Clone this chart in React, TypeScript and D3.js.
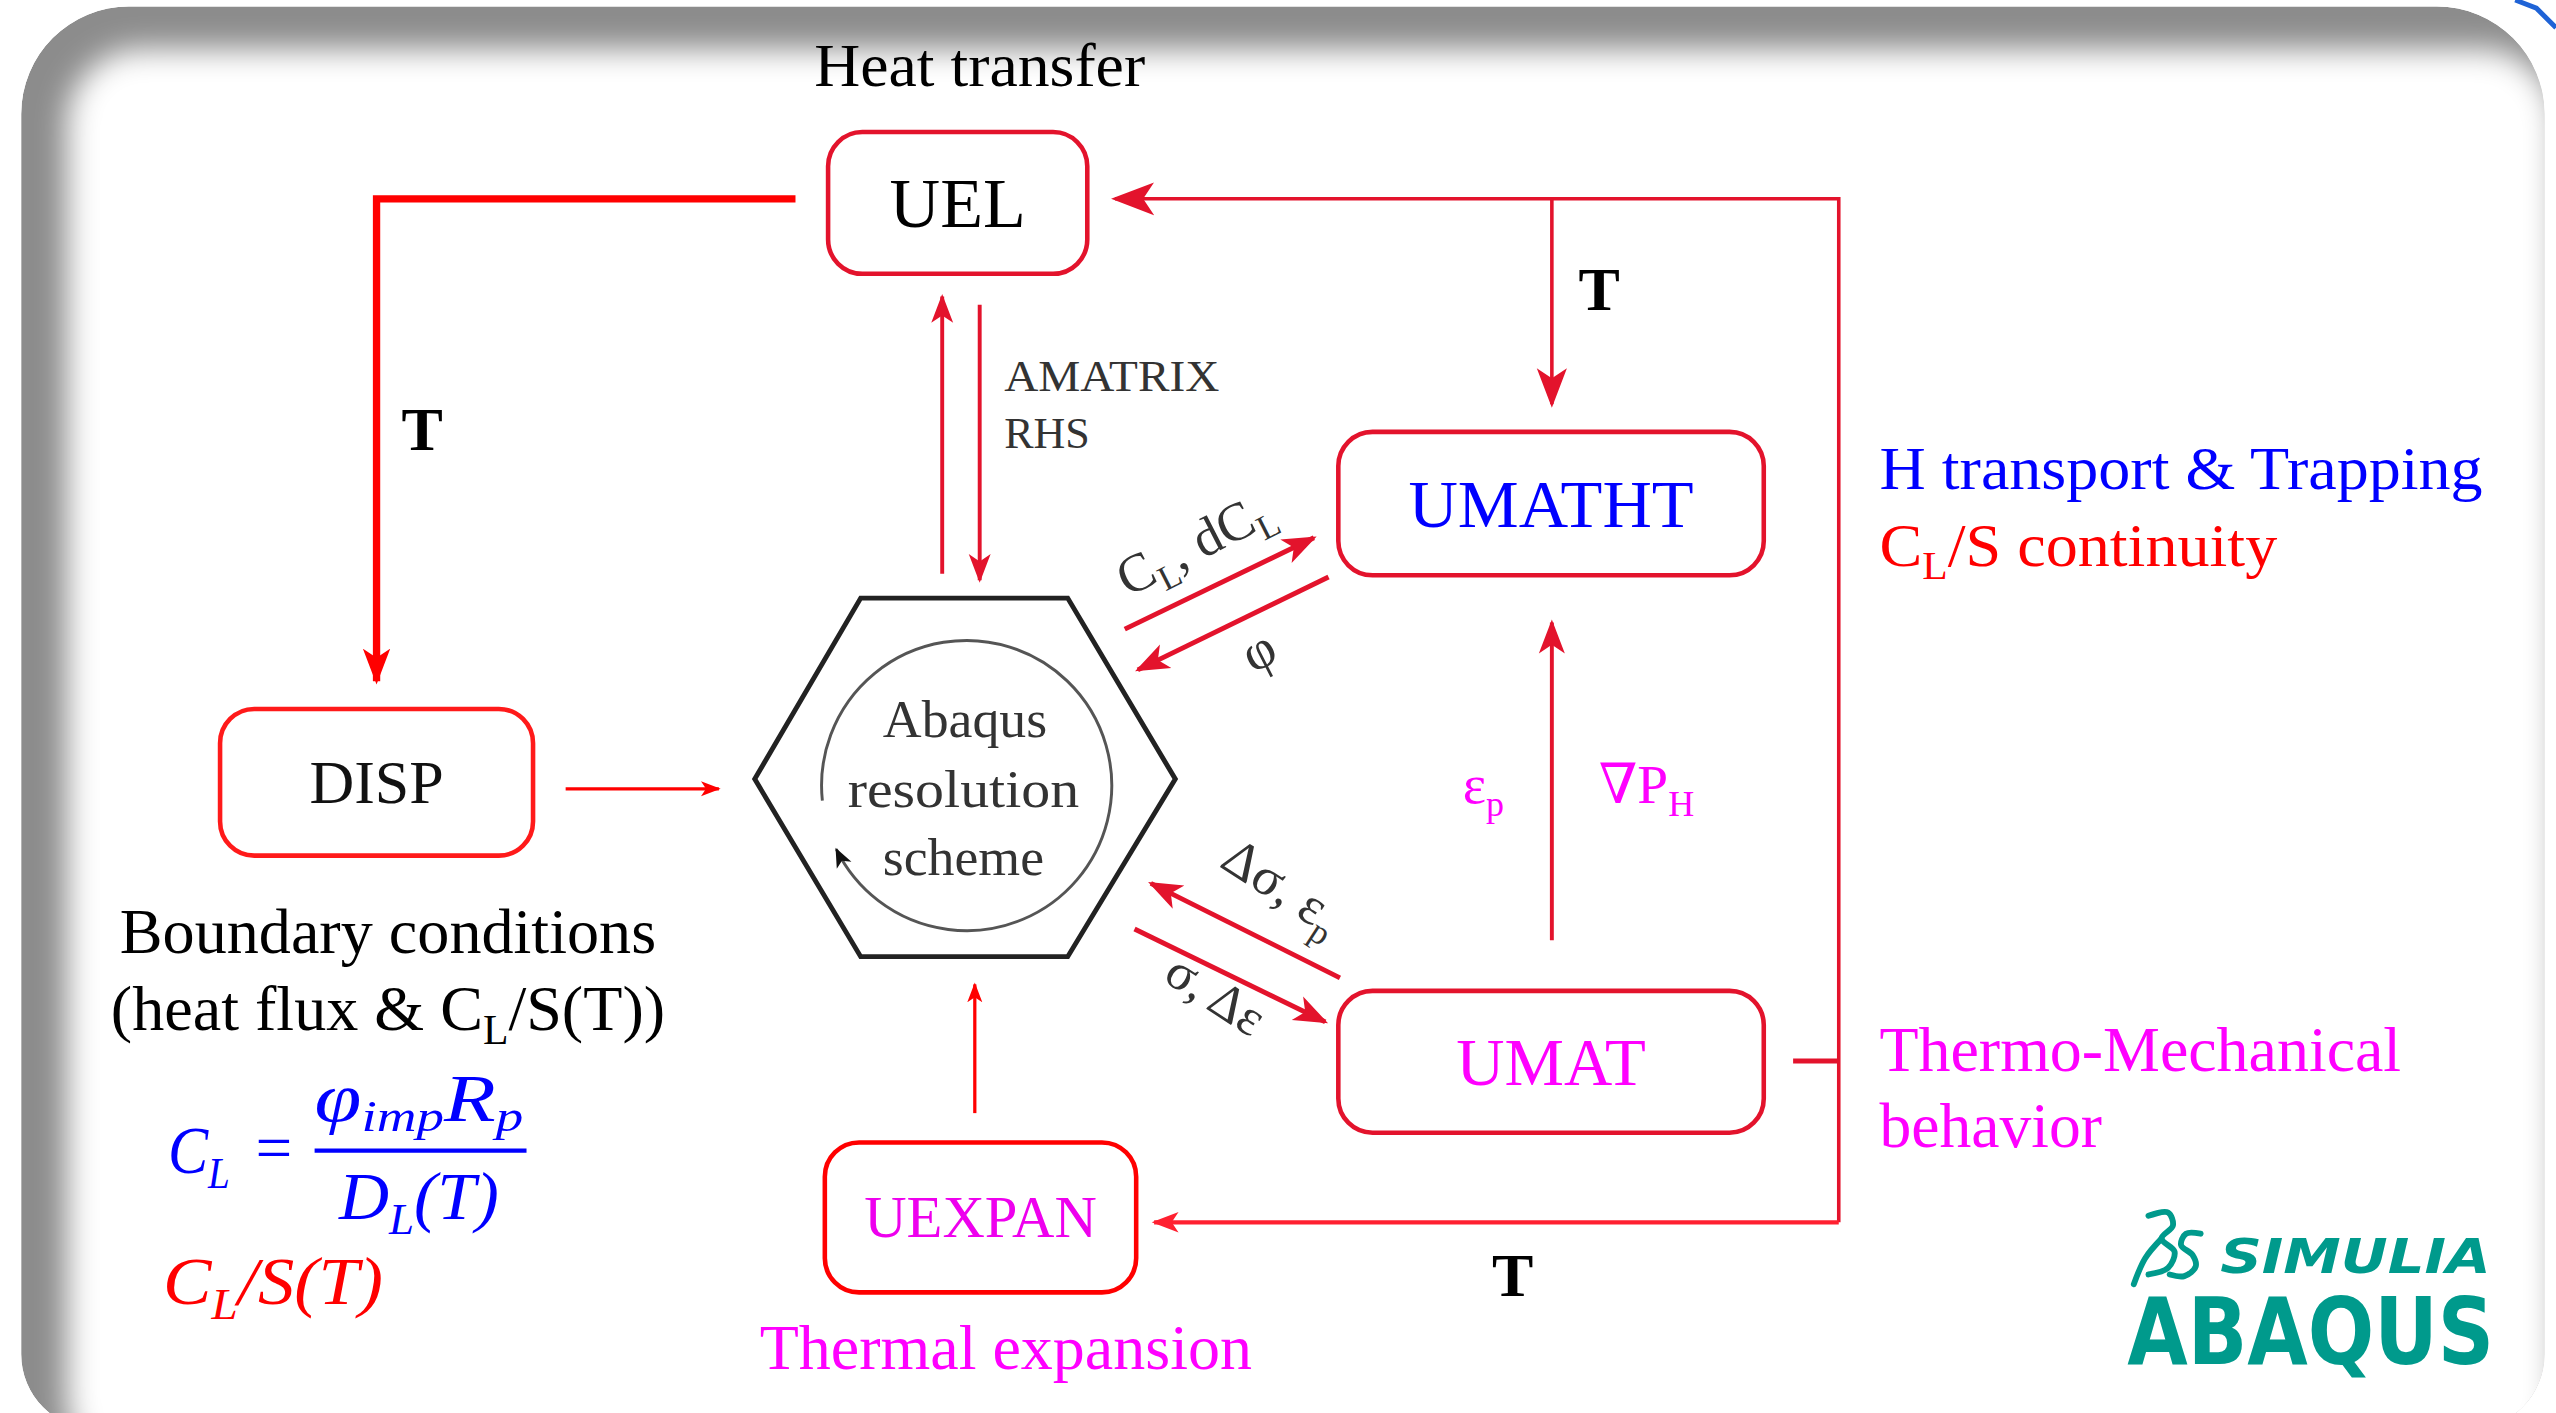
import { useEffect, useRef } from 'react';
import * as d3 from 'd3';

const WIDTH = 2556;
const HEIGHT = 1413;
// layout grid = the slide as seen at 1568 x 867
const GRID_W = 1568;
const GRID_H = 867;

const SERIF = '"Liberation Serif", "DejaVu Serif", serif';
const RED = '#ff0000';
const CRIMSON = '#e3132c';
const BLUE = '#0000ff';
const MAGENTA = '#ff00ff';
const TEAL = '#009a8c';

type Part = [string, number]; // [text, 1 = subscript]

// subroutine boxes
const boxes = [
  { name: 'UEL', x0: 508, x1: 667, y0: 81, y1: 168, color: '#000', stroke: CRIMSON, size: 43 },
  { name: 'DISP', x0: 135, x1: 327, y0: 435, y1: 525, color: '#111', stroke: '#ff1a1a', size: 38 },
  { name: 'UMATHT', x0: 821, x1: 1082, y0: 265, y1: 353, color: BLUE, stroke: CRIMSON, size: 42 },
  { name: 'UMAT', x0: 821, x1: 1082, y0: 608, y1: 695, color: MAGENTA, stroke: CRIMSON, size: 41 },
  { name: 'UEXPAN', x0: 506, x1: 697, y0: 701, y1: 793, color: '#ee00ee', stroke: RED, size: 36 },
];

// connections (head = arrowhead length, 0 = none)
const arrows = [
  { pts: [[488, 122], [231, 122], [231, 418]], w: 4.5, head: 20, color: RED },
  { pts: [[1128, 750], [1128, 122], [684, 122]], w: 2.2, head: 24, color: CRIMSON },
  { pts: [[1128, 750], [708, 750]], w: 2.6, head: 15, color: '#ff2030' },
  { pts: [[952, 122], [952, 248]], w: 2.2, head: 22, color: CRIMSON },
  { pts: [[1100, 651], [1128, 651]], w: 3, head: 0, color: CRIMSON },
  { pts: [[578, 352], [578, 182]], w: 2.4, head: 16, color: CRIMSON },
  { pts: [[601, 187], [601, 356]], w: 2.4, head: 16, color: CRIMSON },
  { pts: [[690, 386], [806, 330]], w: 3, head: 19, color: CRIMSON },
  { pts: [[815, 354], [698, 411]], w: 3, head: 19, color: CRIMSON },
  { pts: [[822, 600], [706, 542]], w: 3, head: 19, color: CRIMSON },
  { pts: [[696, 570], [813, 627]], w: 3, head: 19, color: CRIMSON },
  { pts: [[952, 577], [952, 382]], w: 2.4, head: 19, color: CRIMSON },
  { pts: [[347, 484], [441, 484]], w: 2, head: 11, color: RED },
  { pts: [[598, 683], [598, 604]], w: 2, head: 11, color: RED },
];

const hexagon = [[463, 478], [528, 367], [655, 367], [721, 478], [655, 587], [528, 587]];
const loop = { cx: 593, cy: 482, r: 89, from: 174, to: 514 };

const labels: { parts: Part[]; x: number; y: number; size: number; color: string; anchor?: string; bold?: boolean; italic?: boolean; rotate?: number; len?: number; shift?: number }[] = [
  { parts: [['Heat transfer', 0]], x: 601, y: 53, size: 37, color: '#000', anchor: 'middle', len: 203 },
  { parts: [['T', 0]], x: 259, y: 276, size: 38, color: '#000', anchor: 'middle', bold: true },
  { parts: [['T', 0]], x: 981, y: 190, size: 38, color: '#000', anchor: 'middle', bold: true },
  { parts: [['T', 0]], x: 928, y: 795, size: 38, color: '#000', anchor: 'middle', bold: true },
  { parts: [['AMATRIX', 0]], x: 616, y: 240, size: 27, color: '#333', len: 132 },
  { parts: [['RHS', 0]], x: 616, y: 275, size: 27, color: '#333' },
  { parts: [['Abaqus', 0]], x: 592, y: 452, size: 33, color: '#333', anchor: 'middle' },
  { parts: [['resolution', 0]], x: 591, y: 495, size: 33, color: '#333', anchor: 'middle', len: 142 },
  { parts: [['scheme', 0]], x: 591, y: 537, size: 33, color: '#333', anchor: 'middle' },
  { parts: [['H transport & Trapping', 0]], x: 1153, y: 300, size: 37, color: BLUE, len: 370 },
  { parts: [['C', 0], ['L', 1], ['/S continuity', 0]], x: 1153, y: 347, size: 37, color: RED, len: 244 },
  { parts: [['Thermo-Mechanical', 0]], x: 1153, y: 657, size: 39, color: MAGENTA, len: 320 },
  { parts: [['behavior', 0]], x: 1153, y: 704, size: 39, color: MAGENTA },
  { parts: [['Boundary conditions', 0]], x: 238, y: 585, size: 39, color: '#000', anchor: 'middle', len: 329 },
  { parts: [['(heat flux & C', 0], ['L', 1], ['/S(T))', 0]], x: 238, y: 632, size: 39, color: '#000', anchor: 'middle', len: 340 },
  { parts: [['Thermal expansion', 0]], x: 617, y: 840, size: 39, color: MAGENTA, anchor: 'middle', len: 302 },
  { parts: [['ε', 0], ['p', 1]], x: 910, y: 493, size: 34, color: MAGENTA, anchor: 'middle' },
  { parts: [['∇P', 0], ['H', 1]], x: 1010, y: 493, size: 34, color: MAGENTA, anchor: 'middle' },
  { parts: [['C', 0], ['L', 1], [', dC', 0], ['L', 1]], x: 738, y: 343, size: 33, color: '#333', anchor: 'middle', rotate: -27 },
  { parts: [['φ', 0]], x: 777, y: 409, size: 33, color: '#333', anchor: 'middle', rotate: -27 },
  { parts: [['Δσ, ε', 0], ['p', 1]], x: 781, y: 553, size: 33, color: '#333', anchor: 'middle', rotate: 33 },
  { parts: [['σ, Δε', 0]], x: 740, y: 619, size: 32, color: '#333', anchor: 'middle', rotate: 33 },
  // boundary formula
  { parts: [['C', 0], ['L', 1]], x: 103, y: 720, size: 42, color: BLUE, italic: true, len: 38 },
  { parts: [['=', 0]], x: 168, y: 718, size: 40, color: BLUE, anchor: 'middle' },
  { parts: [['φ', 0], ['imp', 1], ['R', 0], ['p', 1]], x: 193, y: 688, size: 42, color: BLUE, italic: true, len: 128, shift: 0.14 },
  { parts: [['D', 0], ['L', 1], ['(T)', 0]], x: 208, y: 748, size: 42, color: BLUE, italic: true, len: 98 },
  { parts: [['C', 0], ['L', 1], ['/S(T)', 0]], x: 100, y: 800, size: 42, color: RED, italic: true, len: 135 },
];

const fractionBar = [[193, 706], [323, 706]];

// slide frame: edges and corner radii
const frame = { x0: 13, y0: 4, x1: 1561, y1: 877, rTop: 66, rBottom: 46 };

export default function App() {
  const svgRef = useRef<SVGSVGElement>(null);

  useEffect(() => {
    if (!svgRef.current) return;
    document.body.style.margin = '0';
    const svg = d3.select(svgRef.current);
    svg.selectAll('*').remove();
    svg.attr('width', WIDTH).attr('height', HEIGHT);

    const sx = d3.scaleLinear().domain([0, GRID_W]).range([0, WIDTH]);
    const sy = d3.scaleLinear().domain([0, GRID_H]).range([0, HEIGHT]);
    const k = WIDTH / GRID_W;
    const line = d3.line<number[]>().x(d => sx(d[0])).y(d => sy(d[1]));

    const defs = svg.append('defs');
    defs.append('filter').attr('id', 'soft')
      .attr('x', '-10%').attr('y', '-10%').attr('width', '120%').attr('height', '120%')
      .append('feGaussianBlur').attr('stdDeviation', 9 * k);

    // slide frame with inner shadow (light from bottom-right)
    svg.append('rect').attr('width', WIDTH).attr('height', HEIGHT).attr('fill', '#fff');
    const fp = d3.path();
    const X0 = sx(frame.x0), X1 = sx(frame.x1), Y0 = sy(frame.y0), Y1 = sy(frame.y1);
    const rt = frame.rTop * k, rb = frame.rBottom * k;
    fp.moveTo(X0 + rt, Y0);
    fp.lineTo(X1 - rt, Y0);
    fp.arcTo(X1, Y0, X1, Y0 + rt, rt);
    fp.lineTo(X1, Y1 - rb);
    fp.arcTo(X1, Y1, X1 - rb, Y1, rb);
    fp.lineTo(X0 + rb, Y1);
    fp.arcTo(X0, Y1, X0, Y1 - rb, rb);
    fp.lineTo(X0, Y0 + rt);
    fp.arcTo(X0, Y0, X0 + rt, Y0, rt);
    fp.closePath();
    defs.append('clipPath').attr('id', 'frameClip').append('path').attr('d', fp.toString());
    const fg = svg.append('g').attr('clip-path', 'url(#frameClip)');
    fg.append('path').attr('d', fp.toString()).attr('fill', '#8c8c8c');
    fg.append('rect')
      .attr('x', sx(41)).attr('y', sy(30))
      .attr('width', sx(1568) - sx(41)).attr('height', sy(905) - sy(30))
      .attr('rx', 46 * k).attr('fill', '#fff').attr('filter', 'url(#soft)');
    svg.append('path')
      .attr('d', line([[1543, 0], [1556, 5], [1568, 17]]) as string)
      .attr('fill', 'none').attr('stroke', '#1f63d6').attr('stroke-width', 3 * k);

    // arrowheads
    arrows.forEach((a, i) => {
      if (!a.head) return;
      const L = a.head * k;
      const hw = L * 0.42;
      defs.append('marker').attr('id', `ah${i}`)
        .attr('markerUnits', 'userSpaceOnUse')
        .attr('viewBox', `${-L} ${-L} ${L * 1.2} ${L * 2}`)
        .attr('markerWidth', L * 1.2).attr('markerHeight', L * 2)
        .attr('refX', 0).attr('refY', 0).attr('orient', 'auto')
        .append('path')
        .attr('d', `M${L * 0.1},0 L${-L},${-hw} L${-L * 0.72},0 L${-L},${hw} Z`)
        .attr('fill', a.color);
    });
    defs.append('marker').attr('id', 'loopHead')
      .attr('markerUnits', 'userSpaceOnUse')
      .attr('viewBox', `${-12 * k} ${-12 * k} ${14 * k} ${24 * k}`)
      .attr('markerWidth', 14 * k).attr('markerHeight', 24 * k)
      .attr('orient', 'auto')
      .append('path')
      .attr('d', `M${k},0 L${-11 * k},${-5 * k} L${-8 * k},0 L${-11 * k},${5 * k} Z`)
      .attr('fill', '#111');

    const g = svg.append('g');

    arrows.forEach((a, i) => {
      g.append('path')
        .attr('d', line(a.pts) as string)
        .attr('fill', 'none')
        .attr('stroke', a.color)
        .attr('stroke-width', a.w * k)
        .attr('stroke-linejoin', 'miter')
        .attr('marker-end', a.head ? `url(#ah${i})` : null);
    });

    // boxes
    g.selectAll('rect.box').data(boxes).join('rect')
      .attr('class', 'box')
      .attr('x', d => sx(d.x0)).attr('y', d => sy(d.y0))
      .attr('width', d => sx(d.x1) - sx(d.x0)).attr('height', d => sy(d.y1) - sy(d.y0))
      .attr('rx', 21 * k)
      .attr('fill', '#fff')
      .attr('stroke', d => d.stroke)
      .attr('stroke-width', 2.8 * k);
    g.selectAll('text.box').data(boxes).join('text')
      .attr('class', 'box')
      .attr('x', d => sx((d.x0 + d.x1) / 2)).attr('y', d => sy((d.y0 + d.y1) / 2))
      .attr('dy', '0.34em')
      .attr('text-anchor', 'middle')
      .attr('font-family', SERIF)
      .attr('font-size', d => d.size * k)
      .attr('fill', d => d.color)
      .text(d => d.name);

    // solver hexagon with its loop
    g.append('path')
      .attr('d', (line(hexagon) as string) + 'Z')
      .attr('fill', 'none').attr('stroke', '#222').attr('stroke-width', 3 * k)
      .attr('stroke-linejoin', 'miter');
    const p = d3.path();
    const rad = (deg: number) => (deg * Math.PI) / 180;
    p.arc(sx(loop.cx), sy(loop.cy), loop.r * k, rad(loop.from), rad(loop.to), false);
    g.append('path')
      .attr('d', p.toString())
      .attr('fill', 'none').attr('stroke', '#555').attr('stroke-width', 1.8 * k)
      .attr('marker-end', 'url(#loopHead)');

    g.append('path')
      .attr('d', line(fractionBar) as string)
      .attr('stroke', BLUE).attr('stroke-width', 2.6 * k);

    // labels
    labels.forEach(lab => {
      const fs = lab.size * k;
      const shift = fs * (lab.shift ?? 0.22);
      const t = g.append('text')
        .attr('x', sx(lab.x)).attr('y', sy(lab.y))
        .attr('text-anchor', lab.anchor ?? 'start')
        .attr('font-family', SERIF)
        .attr('font-size', fs)
        .attr('font-weight', lab.bold ? 'bold' : 'normal')
        .attr('font-style', lab.italic ? 'italic' : 'normal')
        .attr('fill', lab.color);
      if (lab.rotate) t.attr('transform', `rotate(${lab.rotate},${sx(lab.x)},${sy(lab.y)})`);
      if (lab.len) t.attr('textLength', lab.len * k).attr('lengthAdjust', 'spacingAndGlyphs');
      let down = false;
      lab.parts.forEach(([s, sub]) => {
        const ts = t.append('tspan').text(s);
        if (sub) {
          ts.attr('font-size', fs * 0.65);
          if (!down) { ts.attr('dy', shift); down = true; }
        } else if (down) {
          ts.attr('dy', -shift);
          down = false;
        }
      });
    });

    // SIMULIA / ABAQUS mark
    const logo = svg.append('g').attr('fill', 'none').attr('stroke', TEAL)
      .attr('stroke-width', 3.6 * k).attr('stroke-linecap', 'round');
    const curve = d3.line<number[]>().x(d => sx(d[0])).y(d => sy(d[1])).curve(d3.curveCatmullRom);
    logo.append('path').attr('d', curve([[1318, 746], [1330, 744], [1333, 752], [1326, 760], [1334, 768], [1330, 778], [1318, 782]]) as string);
    logo.append('path').attr('d', curve([[1326, 760], [1316, 772], [1309, 788]]) as string);
    logo.append('path').attr('d', curve([[1350, 757], [1341, 757], [1338, 764], [1345, 770], [1347, 777], [1340, 783], [1331, 782]]) as string);
    svg.append('text')
      .attr('x', sx(1362)).attr('y', sy(781))
      .attr('font-family', '"DejaVu Sans", sans-serif')
      .attr('font-style', 'italic').attr('font-weight', 'bold')
      .attr('font-size', 29 * k).attr('fill', TEAL)
      .attr('textLength', 166 * k).attr('lengthAdjust', 'spacingAndGlyphs')
      .text('SIMULIA');
    svg.append('text')
      .attr('x', sx(1305)).attr('y', sy(837))
      .attr('font-family', '"DejaVu Sans", sans-serif')
      .attr('font-weight', 'bold')
      .attr('font-size', 57 * k).attr('fill', TEAL)
      .attr('textLength', 225 * k).attr('lengthAdjust', 'spacingAndGlyphs')
      .text('ABAQUS');
  }, []);

  return (
    <div>
      <svg ref={svgRef} style={{ display: 'block' }}></svg>
    </div>
  );
}
